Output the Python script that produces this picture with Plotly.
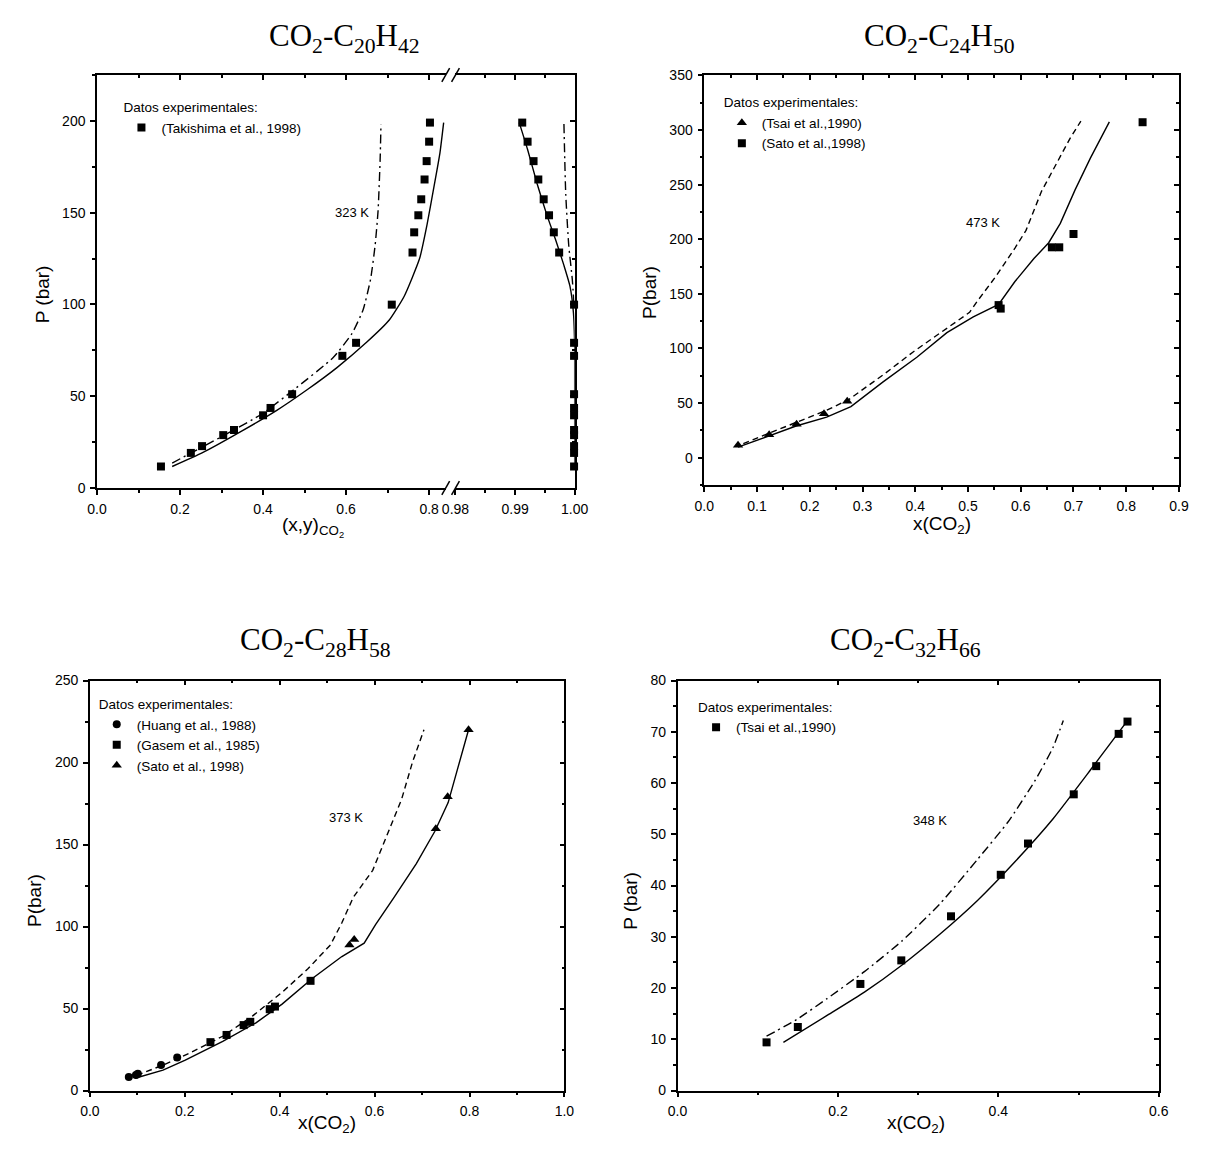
import plotly.graph_objects as go

W, H = 1205, 1158
SANS = "Liberation Sans, Arial, sans-serif"
SERIF = "Liberation Serif, Times New Roman, serif"

# ---------------- CO2 - C20H42 (323 K) ----------------
p_c20 = [11.7, 19.1, 22.8, 28.8, 31.6, 39.6, 43.6, 51.1, 72.0, 79.1, 99.9,
         128.3, 139.3, 148.6, 157.3, 168.1, 178.1, 188.7, 199.1]
x_c20 = [0.154, 0.226, 0.253, 0.304, 0.330, 0.400, 0.418, 0.470, 0.591, 0.624, 0.710,
         0.760, 0.764, 0.774, 0.781, 0.789, 0.794, 0.800, 0.802]
y_c20 = [0.9999, 0.9999, 0.9999, 0.9999, 0.9999, 0.9999, 0.9999, 0.9999, 0.9999, 0.9999, 0.9999,
         0.9974, 0.9965, 0.9957, 0.9948, 0.9939, 0.9931, 0.9921, 0.9912]
# model, liquid branch
c20_liq_solid_x = [0.181, 0.253, 0.343, 0.433, 0.506, 0.578, 0.650, 0.704, 0.740, 0.777, 0.795, 0.813, 0.826, 0.835]
c20_liq_solid_p = [11.7, 19.1, 30.3, 42.3, 53.5, 65.6, 79.5, 91.5, 104.5, 125.0, 143.5, 165.8, 182.5, 199.1]
c20_liq_dd_x = [0.181, 0.307, 0.397, 0.479, 0.569, 0.614, 0.641, 0.659, 0.670, 0.677, 0.682, 0.684]
c20_liq_dd_p = [13.6, 28.8, 40.3, 54.4, 71.1, 84.1, 97.1, 113.8, 132.4, 151.0, 178.8, 198.3]
# model, vapour branch
c20_vap_solid_y = [0.9907, 0.9921, 0.9937, 0.9953, 0.9969, 0.9982, 0.9992, 0.9998, 1.0000, 1.0000]
c20_vap_solid_p = [199.1, 184.4, 165.8, 149.1, 134.3, 121.3, 110.1, 95.3, 76.7, 11.7]
c20_vap_dd_y = [0.9982, 0.9985, 0.9990, 0.9996, 0.9999]
c20_vap_dd_p = [198.3, 160.3, 132.4, 113.8, 99.0]

# ---------------- CO2 - C24H50 (473 K) ----------------
tsai90_c24_x = [0.064, 0.123, 0.175, 0.227, 0.271]
tsai90_c24_p = [11.3, 21.0, 30.6, 40.3, 51.6]
sato98_c24_x = [0.558, 0.562, 0.659, 0.673, 0.700, 0.831]
sato98_c24_p = [139.7, 136.5, 192.6, 192.6, 204.8, 307.1]
c24_solid_x = [0.064, 0.124, 0.174, 0.232, 0.278, 0.339, 0.403, 0.460, 0.510, 0.558, 0.589, 0.625, 0.653, 0.675, 0.703, 0.732, 0.768]
c24_solid_p = [9.7, 20.3, 29.0, 37.1, 46.8, 69.4, 91.9, 114.5, 128.9, 140.3, 161.3, 182.3, 196.8, 214.5, 245.2, 274.2, 307.4]
c24_dash_x = [0.074, 0.124, 0.174, 0.232, 0.274, 0.339, 0.396, 0.453, 0.503, 0.518, 0.553, 0.589, 0.610, 0.639, 0.668, 0.693, 0.714]
c24_dash_p = [12.9, 22.6, 32.3, 43.5, 53.2, 75.8, 96.8, 116.1, 133.1, 143.5, 166.1, 191.9, 208.1, 243.5, 269.4, 291.9, 308.1]

# ---------------- CO2 - C28H58 (373 K) ----------------
huang88_x = [0.082, 0.097, 0.101, 0.150, 0.184]
huang88_p = [8.2, 9.5, 10.2, 15.5, 20.2]
gasem85_x = [0.254, 0.288, 0.324, 0.338, 0.379, 0.390, 0.465]
gasem85_p = [29.5, 33.9, 39.9, 41.9, 49.6, 51.2, 66.9]
sato98_c28_x = [0.547, 0.557, 0.729, 0.754, 0.798]
sato98_c28_p = [88.8, 92.1, 159.7, 179.1, 220.0]
c28_solid_x = [0.095, 0.154, 0.201, 0.280, 0.350, 0.405, 0.468, 0.531, 0.578, 0.602, 0.641, 0.688, 0.727, 0.755, 0.775, 0.798]
c28_solid_p = [7.5, 12.4, 18.6, 30.0, 41.3, 52.7, 68.2, 81.7, 89.9, 101.2, 117.8, 138.4, 158.1, 175.6, 196.3, 220.0]
c28_dash_x = [0.099, 0.154, 0.209, 0.280, 0.343, 0.405, 0.460, 0.507, 0.531, 0.555, 0.596, 0.625, 0.657, 0.680, 0.696, 0.704]
c28_dash_p = [9.3, 15.5, 22.7, 33.1, 45.5, 59.9, 74.4, 88.8, 102.3, 117.8, 134.3, 155.0, 177.7, 200.4, 212.8, 220.0]

# ---------------- CO2 - C32H66 (348 K) ----------------
tsai90_c32_x = [0.111, 0.150, 0.228, 0.279, 0.341, 0.403, 0.437, 0.494, 0.522, 0.550, 0.561]
tsai90_c32_p = [9.4, 12.4, 20.8, 25.4, 34.0, 42.1, 48.2, 57.8, 63.3, 69.6, 72.0]
c32_solid_x = [0.132, 0.186, 0.233, 0.280, 0.327, 0.374, 0.421, 0.468, 0.515, 0.539, 0.561]
c32_solid_p = [9.4, 14.6, 19.2, 24.5, 30.5, 37.1, 44.7, 53.0, 62.6, 67.6, 72.2]
c32_dd_x = [0.111, 0.149, 0.186, 0.233, 0.280, 0.327, 0.374, 0.412, 0.445, 0.468, 0.481]
c32_dd_p = [10.6, 13.9, 17.9, 23.2, 29.2, 36.4, 45.1, 52.4, 60.3, 66.9, 72.2]

# ---------------- helpers ----------------
def px(x):
    return x / W


def py(y):
    return 1 - y / H


DASH = "6px,4px"
DASHDOT = "9px,4px,2px,4px"
TICKFONT = dict(family=SANS, size=14, color="black")


def base_axis(**kw):
    d = dict(showline=True, linecolor="black", linewidth=1.5, showgrid=False, zeroline=False,
             ticks="outside", ticklen=5, tickwidth=1.5, tickcolor="black",
             tickfont=TICKFONT, ticklabelstandoff=2)
    d.update(kw)
    return d


def minor(dtick=None, tick0=0, side="outside", vals=None):
    m = dict(ticks=side, ticklen=3, tickwidth=1.5, tickcolor="black", showgrid=False)
    if vals is not None:
        m["tickvals"] = vals
    else:
        m.update(dtick=dtick, tick0=tick0)
    return m


def mirror_axis(over, anchor, side, rng, **kw):
    d = dict(overlaying=over, anchor=anchor, side=side, range=rng, showticklabels=False,
             showline=True, linecolor="black", linewidth=1.5, showgrid=False, zeroline=False,
             ticks="inside", ticklen=5, tickwidth=1.5, tickcolor="black")
    d.update(kw)
    return d


fig = go.Figure()


def scat(x, y, xa, ya, symbol, name=None, legend=None, size=8):
    fig.add_trace(go.Scatter(x=x, y=y, xaxis=xa, yaxis=ya, mode="markers", cliponaxis=False,
                             marker=dict(symbol=symbol, size=size, color="black"),
                             name=name, showlegend=name is not None, legend=legend,
                             hoverinfo="x+y"))


def curve(x, y, xa, ya, dash="solid", smooth=False):
    line = dict(color="black", width=1.4, dash=dash)
    if smooth:
        line.update(shape="spline", smoothing=0.5)
    fig.add_trace(go.Scatter(x=x, y=y, xaxis=xa, yaxis=ya, mode="lines", cliponaxis=False,
                             line=line, showlegend=False, hoverinfo="skip"))


def frame_holder(xa, ya):
    # empty trace so that an overlaid frame axis gets drawn
    fig.add_trace(go.Scatter(x=[None], y=[None], xaxis=xa, yaxis=ya, mode="markers",
                             showlegend=False, hoverinfo="skip"))


# panel 1 : broken x axis (liquid on x, vapour on x2)
scat(x_c20, p_c20, "x", "y", "square", "(Takishima et al., 1998)", "legend")
scat(y_c20, p_c20, "x2", "y", "square")
curve(c20_liq_solid_x, c20_liq_solid_p, "x", "y", smooth=True)
curve(c20_liq_dd_x, c20_liq_dd_p, "x", "y", DASHDOT, smooth=True)
curve(c20_vap_solid_y, c20_vap_solid_p, "x2", "y", smooth=True)
curve(c20_vap_dd_y, c20_vap_dd_p, "x2", "y", DASHDOT, smooth=True)

# panel 2
scat(tsai90_c24_x, tsai90_c24_p, "x5", "y3", "triangle-up", "(Tsai et al.,1990)", "legend2", 9)
scat(sato98_c24_x, sato98_c24_p, "x5", "y3", "square", "(Sato et al.,1998)", "legend2")
curve(c24_solid_x, c24_solid_p, "x5", "y3")
curve(c24_dash_x, c24_dash_p, "x5", "y3", DASH)

# panel 3
scat(huang88_x, huang88_p, "x7", "y5", "circle", "(Huang et al., 1988)", "legend3")
scat(gasem85_x, gasem85_p, "x7", "y5", "square", "(Gasem et al., 1985)", "legend3")
scat(sato98_c28_x, sato98_c28_p, "x7", "y5", "triangle-up", "(Sato et al., 1998)", "legend3", 9)
curve(c28_solid_x, c28_solid_p, "x7", "y5")
curve(c28_dash_x, c28_dash_p, "x7", "y5", DASH)

# panel 4
scat(tsai90_c32_x, tsai90_c32_p, "x9", "y7", "square", "(Tsai et al.,1990)", "legend4")
curve(c32_solid_x, c32_solid_p, "x9", "y7", smooth=True)
curve(c32_dd_x, c32_dd_p, "x9", "y7", DASHDOT, smooth=True)

# frame (top / right) axes need a trace each
for xa, ya in [("x3", "y"), ("x4", "y"), ("x2", "y2"),
               ("x6", "y3"), ("x5", "y4"),
               ("x8", "y5"), ("x7", "y6"),
               ("x10", "y7"), ("x9", "y8")]:
    frame_holder(xa, ya)

# ---------------- axes ----------------
P1 = dict(L=85, BRK_L=442, BRK_R=452, R=574, T=68, B=486.7)
x1_end = (P1["BRK_L"] - P1["L"]) / 425.0
P2 = dict(L=706.7, R=1192.7, T=68.3, B=483.7)
P3 = dict(L=77.7, R=563.5, T=682, B=1097.7)
P4 = dict(L=679.3, R=1172, T=682, B=1097.7)

lay = {}
# panel 1
lay["xaxis"] = base_axis(domain=[px(P1["L"]), px(P1["BRK_L"])], range=[0, x1_end], anchor="y",
                         dtick=0.2, tick0=0, tickformat=".1f", minor=minor(0.1))
lay["xaxis2"] = base_axis(domain=[px(P1["BRK_R"]), px(P1["R"])], range=[0.98, 1.0], anchor="y",
                          tickvals=[0.98, 0.99, 1.00], ticktext=["0.98", "0.99", "1.00"],
                          minor=minor(vals=[0.985, 0.995]))
lay["yaxis"] = base_axis(domain=[py(P1["B"]), py(P1["T"])], range=[0, 225], anchor="x",
                         dtick=50, tick0=0, minor=minor(25))
lay["xaxis3"] = mirror_axis("x", "y", "top", [0, x1_end], dtick=0.2, tick0=0,
                            minor=minor(0.1, side="inside"))
lay["xaxis4"] = mirror_axis("x2", "y", "top", [0.98, 1.0], tickvals=[0.98, 0.99, 1.00],
                            minor=minor(vals=[0.985, 0.995], side="inside"))
lay["yaxis2"] = mirror_axis("y", "x2", "right", [0, 225], dtick=50, tick0=0,
                            minor=minor(25, side="inside"))

# panel 2
lay["xaxis5"] = base_axis(domain=[px(P2["L"]), px(P2["R"])], range=[0, 0.9], anchor="y3",
                          dtick=0.1, tick0=0, tickformat=".1f", minor=minor(0.05))
lay["yaxis3"] = base_axis(domain=[py(P2["B"]), py(P2["T"])], range=[-25, 350], anchor="x5",
                          dtick=50, tick0=0, minor=minor(25))
lay["xaxis6"] = mirror_axis("x5", "y3", "top", [0, 0.9], dtick=0.1, tick0=0,
                            minor=minor(0.05, side="inside"))
lay["yaxis4"] = mirror_axis("y3", "x5", "right", [-25, 350], dtick=50, tick0=0,
                            minor=minor(25, side="inside"))

# panel 3
lay["xaxis7"] = base_axis(domain=[px(P3["L"]), px(P3["R"])], range=[0, 1.0], anchor="y5",
                          dtick=0.2, tick0=0, tickformat=".1f", minor=minor(0.1))
lay["yaxis5"] = base_axis(domain=[py(P3["B"]), py(P3["T"])], range=[0, 250], anchor="x7",
                          dtick=50, tick0=0, minor=minor(25))
lay["xaxis8"] = mirror_axis("x7", "y5", "top", [0, 1.0], dtick=0.2, tick0=0,
                            minor=minor(0.1, side="inside"))
lay["yaxis6"] = mirror_axis("y5", "x7", "right", [0, 250], dtick=50, tick0=0,
                            minor=minor(25, side="inside"))

# panel 4
lay["xaxis9"] = base_axis(domain=[px(P4["L"]), px(P4["R"])], range=[0, 0.6], anchor="y7",
                          dtick=0.2, tick0=0, tickformat=".1f", minor=minor(0.1))
lay["yaxis7"] = base_axis(domain=[py(P4["B"]), py(P4["T"])], range=[0, 80], anchor="x9",
                          dtick=10, tick0=0, minor=minor(5))
lay["xaxis10"] = mirror_axis("x9", "y7", "top", [0, 0.6], dtick=0.2, tick0=0,
                             minor=minor(0.1, side="inside"))
lay["yaxis8"] = mirror_axis("y7", "x9", "right", [0, 80], dtick=10, tick0=0,
                            minor=minor(5, side="inside"))

# ---------------- legends ----------------
LEGFONT = dict(family=SANS, size=13.5, color="black")


def legend(xp, yp):
    return dict(x=px(xp), y=py(yp), xanchor="left", yanchor="top", bgcolor="rgba(0,0,0,0)",
                borderwidth=0, font=LEGFONT,
                title=dict(text="Datos experimentales:", font=LEGFONT),
                tracegroupgap=0, traceorder="normal")


lay["legend"] = legend(P1["L"] + 25, 88)
lay["legend2"] = legend(P2["L"] + 18, 83)
lay["legend3"] = legend(P3["L"] + 7, 693)
lay["legend4"] = legend(P4["L"] + 19, 696)

# ---------------- text ----------------
ann = []


def title(text, xp, yp):
    ann.append(dict(text=text, x=px(xp), y=py(yp), xref="paper", yref="paper", showarrow=False,
                    xanchor="center", yanchor="middle", font=dict(family=SERIF, size=31, color="black")))


def label(text, xp, yp, angle=0, size=19):
    ann.append(dict(text=text, x=px(xp), y=py(yp), xref="paper", yref="paper", showarrow=False,
                    xanchor="center", yanchor="middle", textangle=angle,
                    font=dict(family=SANS, size=size, color="black")))


def temp(text, x, y, xa, ya):
    ann.append(dict(text=text, x=x, y=y, xref=xa, yref=ya, showarrow=False,
                    xanchor="center", yanchor="middle", font=dict(family=SANS, size=13, color="black")))


title("CO<sub>2</sub>-C<sub>20</sub>H<sub>42</sub>", 338, 30)
title("CO<sub>2</sub>-C<sub>24</sub>H<sub>50</sub>", 948, 30)
title("CO<sub>2</sub>-C<sub>28</sub>H<sub>58</sub>", 309, 643)
title("CO<sub>2</sub>-C<sub>32</sub>H<sub>66</sub>", 913, 643)

label("P (bar)", 30, 290, -90)
label("(x,y)<sub>CO<sub>2</sub></sub>", 306, 526)
label("P(bar)", 650, 288, -90)
label("x(CO<sub>2</sub>)", 950, 524)
label("P(bar)", 21, 905, -90)
label("x(CO<sub>2</sub>)", 320, 1132)
label("P (bar)", 631, 905, -90)
label("x(CO<sub>2</sub>)", 923, 1132)

temp("323 K", 0.614, 150, "x", "y")
temp("473 K", 0.528, 215.5, "x5", "y3")
temp("373 K", 0.539, 166.3, "x7", "y5")
temp("348 K", 0.315, 52.7, "x9", "y7")

# axis-break marks on the bottom and top edges of panel 1
shapes = []
for yb in (P1["B"], P1["T"]):
    for xb in (P1["BRK_L"], P1["BRK_R"]):
        shapes.append(dict(type="line", xref="paper", yref="paper",
                           x0=px(xb - 4), y0=py(yb + 7), x1=px(xb + 4), y1=py(yb - 7),
                           line=dict(color="black", width=1.5)))

fig.update_layout(
    width=W, height=H, margin=dict(l=0, r=0, t=0, b=0),
    paper_bgcolor="white", plot_bgcolor="rgba(0,0,0,0)",
    annotations=ann, shapes=shapes, **lay,
)

fig.write_html("out.html")
